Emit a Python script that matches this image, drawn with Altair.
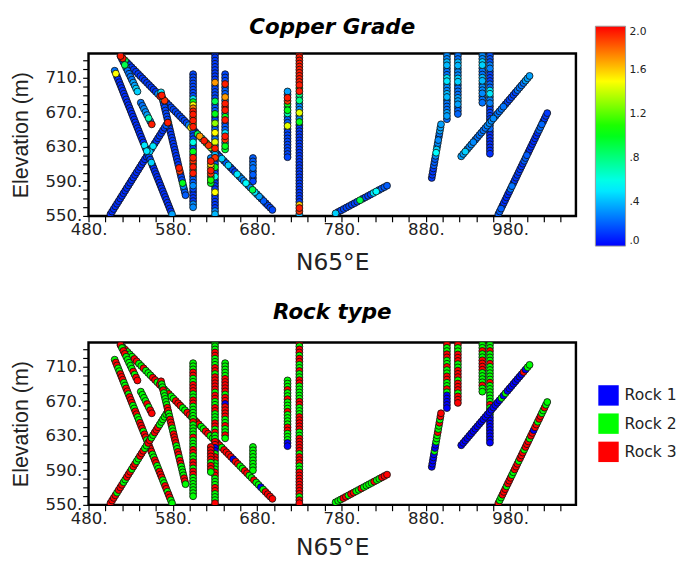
import altair as alt
import pandas as pd

# ---- drillhole traces (section coordinates) ----
hole_ids = ["A", "B", "C", "D", "E", "F", "G", "H", "I", "J", "K",
            "L", "M", "N", "O", "P", "Q", "R", "S", "T", "U"]
start_x = [518, 511, 506, 518, 542, 566, 604, 630, 642, 625, 675,
           716, 730, 773, 905, 918, 947, 956, 887, 922, 966]
start_y = [735, 718, 552, 735, 681, 693, 714, 737, 714, 617, 617,
           694, 737, 553, 739, 739, 739, 739, 594, 619, 552]
end_x = [698, 579, 574, 538, 555, 595, 604, 630, 642, 625, 675,
         716, 730, 834, 905, 918, 947, 956, 898, 1003, 1024]
end_y = [557, 552, 658, 694, 656, 574, 560, 552, 627, 588, 590,
         618, 552, 585, 662, 668, 681, 622, 656, 712, 669]

# ---- copper grade along each hole: [number of samples, grade] ----
grade_runs = {
    "A": [[1, 0.2], [1, 1.95], [1, 0.9], [14, 0.12], [1, 0.3], [1, 1.95], [1, 0.6], [1, 1.9],
          [10, 0.15], [1, 0.3], [1, 1.5], [2, 0.15], [1, 0.9], [1, 1.7], [1, 0.7], [1, 1.95],
          [1, 1.0], [1, 1.9], [1, 1.3], [4, 0.15], [1, 0.45], [2, 0.2], [1, 0.45], [3, 0.15],
          [1, 0.5], [3, 0.3], [1, 0.55], [2, 0.3], [1, 0.9], [1, 0.5], [2, 0.35], [2, 0.2], [4, 0.15]],
    "B": [[1, 0.25], [1, 1.5], [24, 0.1], [1, 0.5], [1, 0.2], [1, 0.5], [3, 0.15], [1, 0.45],
          [17, 0.1], [1, 0.35]],
    "C": [[24, 0.1], [1, 0.45], [1, 0.15], [1, 0.5], [7, 0.12], [1, 0.2], [1, 1.95]],
    "D": [[1, 1.95], [2, 0.15], [1, 0.9], [5, 0.25], [2, 0.35], [2, 0.45]],
    "E": [[2, 0.25], [2, 0.3], [1, 0.35], [1, 0.7], [1, 0.3], [1, 1.95]],
    "F": [[1, 0.5], [1, 1.95], [8, 0.15], [1, 0.9], [14, 0.12], [1, 1.95], [1, 1.9], [3, 0.15],
          [1, 1.0], [1, 0.3], [3, 0.2]],
    "G": [[8, 0.15], [1, 0.5], [1, 1.0], [1, 1.5], [1, 1.75], [1, 1.95], [1, 1.95], [1, 1.7],
          [1, 1.95], [1, 1.5], [1, 1.95], [4, 0.15], [1, 0.6], [2, 0.15], [1, 1.0], [1, 0.3],
          [1, 1.95], [1, 1.9], [1, 0.9], [1, 1.95], [1, 0.8], [1, 1.95], [3, 0.2], [1, 0.3],
          [1, 0.15], [4, 0.12], [2, 0.3]],
    "H": [[9, 0.12], [1, 1.7], [5, 0.15], [1, 0.9], [3, 0.2], [1, 1.0], [2, 0.15], [1, 1.3],
          [2, 0.2], [1, 1.5], [2, 0.25], [1, 1.45], [1, 0.3], [1, 1.95], [2, 0.4], [1, 1.9],
          [2, 0.2], [1, 1.0], [2, 0.15], [1, 0.6], [4, 0.12], [1, 1.5], [5, 0.12], [1, 0.3], [1, 0.4]],
    "I": [[3, 0.15], [1, 1.95], [3, 0.2], [1, 1.7], [1, 0.3], [1, 1.95], [1, 1.9], [1, 1.95],
          [1, 0.4], [1, 1.0], [1, 1.95], [3, 0.2], [1, 0.5], [1, 1.95], [1, 1.9], [1, 0.5],
          [1, 1.0], [1, 0.95]],
    "J": [[1, 0.3], [1, 1.95], [1, 1.6], [1, 1.5], [1, 1.95], [1, 1.9], [1, 0.8], [1, 1.1], [1, 1.0]],
    "K": [[2, 0.2], [2, 0.25], [2, 0.2], [2, 0.15]],
    "L": [[1, 0.35], [1, 0.2], [1, 1.95], [1, 1.9], [1, 1.0], [1, 0.6], [1, 1.0], [1, 0.7],
          [3, 0.2], [1, 1.45], [10, 0.15]],
    "M": [[11, 1.95], [1, 1.0], [1, 1.95], [1, 0.8], [1, 0.6], [1, 0.8], [3, 0.3], [1, 1.45],
          [2, 0.3], [1, 1.0], [26, 0.12], [1, 1.6], [1, 1.95], [1, 1.9], [1, 0.4]],
    "N": [[1, 0.45], [8, 0.15], [1, 0.9], [4, 0.15], [1, 0.5], [1, 0.55], [4, 0.2]],
    "O": [[3, 0.3], [2, 0.4], [3, 0.25], [2, 0.5], [3, 0.3], [2, 0.4], [4, 0.25], [2, 0.35], [1, 0.22]],
    "P": [[3, 0.25], [2, 0.4], [3, 0.3], [2, 0.45], [4, 0.25], [3, 0.35], [3, 0.22]],
    "Q": [[3, 0.3], [2, 0.45], [3, 0.25], [2, 0.4], [4, 0.3], [3, 0.25]],
    "R": [[4, 0.18], [2, 0.28], [4, 0.14], [2, 0.22], [2, 0.5], [3, 0.28], [6, 0.14], [2, 0.22], [8, 0.1]],
    "S": [[4, 0.12], [3, 0.2], [1, 0.3], [1, 0.55], [1, 0.45], [3, 0.3], [2, 0.25], [3, 0.35]],
    "T": [[2, 0.35], [1, 0.45], [4, 0.3], [6, 0.25], [4, 0.3], [5, 0.25], [6, 0.15], [4, 0.25], [3, 0.35]],
    "U": [[3, 0.2], [6, 0.1], [2, 0.25], [8, 0.12], [3, 0.2], [8, 0.1], [3, 0.22], [4, 0.12]],
}

# ---- rock type along each hole: [number of samples, rock code] ----
rock_runs = {
    "A": [[1, 3], [1, 2], [1, 3], [3, 2], [2, 3], [2, 2], [1, 3], [3, 2], [2, 3], [1, 2], [2, 3],
          [2, 2], [1, 3], [2, 2], [3, 3], [2, 2], [2, 3], [1, 2], [3, 3], [2, 2], [2, 3], [3, 2],
          [2, 3], [1, 2], [2, 3], [2, 3], [1, 1], [2, 3], [2, 2], [2, 3], [2, 2], [1, 3], [2, 2],
          [1, 1], [1, 2], [2, 3], [2, 3]],
    "B": [[1, 2], [2, 3], [2, 2], [3, 3], [2, 2], [2, 3], [1, 2], [3, 3], [2, 2], [2, 3], [2, 2],
          [3, 3], [1, 2], [2, 3], [2, 2], [3, 3], [2, 2], [2, 3], [2, 2], [3, 3], [2, 2], [2, 3],
          [1, 2], [2, 3], [2, 2]],
    "C": [[2, 3], [2, 3], [1, 2], [3, 3], [2, 2], [3, 3], [1, 2], [2, 3], [2, 2], [3, 3], [2, 2],
          [2, 3], [2, 2], [3, 3], [2, 2], [2, 2], [1, 2], [1, 3]],
    "D": [[1, 3], [1, 2], [2, 3], [3, 2], [2, 2], [1, 3], [1, 2], [2, 3]],
    "E": [[2, 2], [2, 2], [1, 3], [1, 2], [2, 3]],
    "F": [[1, 3], [2, 2], [1, 3], [2, 2], [3, 2], [2, 3], [2, 2], [3, 3], [2, 2], [2, 3], [2, 3],
          [2, 2], [2, 3], [1, 2], [2, 3], [2, 2], [2, 2], [2, 3], [1, 2]],
    "G": [[3, 2], [2, 3], [2, 2], [3, 3], [2, 2], [2, 3], [3, 2], [2, 2], [1, 3], [4, 2], [1, 3],
          [3, 2], [2, 3], [2, 2], [2, 3], [1, 2], [2, 3], [2, 2], [3, 2], [2, 2]],
    "H": [[3, 2], [2, 3], [3, 2], [2, 3], [1, 2], [2, 3], [3, 3], [1, 2], [2, 3], [2, 2], [2, 3],
          [1, 2], [2, 2], [2, 3], [1, 2], [1, 3], [2, 2], [2, 3], [1, 1], [1, 1], [1, 2], [2, 3],
          [3, 2], [2, 3], [3, 2], [2, 3], [3, 2], [1, 3]],
    "I": [[3, 2], [2, 2], [1, 3], [2, 3], [2, 3], [1, 2], [2, 3], [1, 1], [2, 3], [2, 3], [2, 2],
          [1, 3], [2, 2], [1, 3], [1, 2]],
    "J": [[1, 3], [2, 3], [2, 3], [1, 2], [1, 3], [1, 3], [1, 2]],
    "K": [[8, 2]],
    "L": [[2, 2], [1, 2], [1, 3], [2, 2], [1, 3], [1, 2], [2, 2], [1, 3], [2, 2], [1, 2], [1, 2],
          [2, 3], [1, 2], [2, 2], [1, 1], [1, 1]],
    "M": [[1, 3], [1, 2], [2, 3], [1, 2], [2, 3], [2, 2], [1, 3], [2, 2], [2, 3], [3, 2], [2, 2],
          [2, 3], [3, 2], [2, 3], [3, 3], [2, 2], [3, 3], [2, 3], [1, 2], [3, 3], [2, 2], [3, 3],
          [2, 3], [3, 3], [1, 2], [2, 3]],
    "N": [[1, 2], [2, 2], [2, 3], [1, 2], [2, 3], [2, 2], [1, 3], [2, 2], [2, 2], [1, 3], [1, 2],
          [1, 2], [2, 3], [1, 3]],
    "O": [[2, 3], [2, 2], [2, 3], [2, 2], [1, 3], [2, 2], [2, 3], [2, 2], [1, 3], [1, 2], [5, 1]],
    "P": [[2, 3], [2, 2], [3, 3], [2, 2], [3, 3], [1, 2], [3, 3], [1, 2], [2, 3], [1, 3]],
    "Q": [[3, 2], [1, 3], [2, 2], [4, 3], [2, 2], [2, 2], [1, 3], [2, 2]],
    "R": [[3, 2], [1, 3], [3, 2], [1, 3], [5, 2], [1, 3], [4, 2], [2, 2], [1, 3], [3, 2], [9, 1]],
    "S": [[5, 1], [1, 2], [2, 1], [1, 2], [2, 2], [1, 3], [2, 2], [1, 3], [1, 2], [2, 3]],
    "T": [[20, 1], [1, 2], [1, 1], [1, 2], [8, 1], [1, 3], [1, 1], [2, 2]],
    "U": [[1, 3], [2, 2], [3, 3], [1, 2], [3, 3], [2, 2], [3, 3], [1, 2], [3, 3], [1, 2], [3, 3],
          [1, 2], [2, 3], [1, 1], [2, 3], [1, 2], [2, 3], [2, 2], [1, 3], [2, 2]],
}

rock_names = ["Rock 1", "Rock 2", "Rock 3"]
rock_colors = ["#0000ff", "#00ff00", "#ff0000"]
grade_stops = [0.0, 0.55, 1.05, 1.5, 2.0]
grade_colors = ["#0000ff", "#00ffff", "#00ff00", "#ffff00", "#ff0000"]
grade_ticks = [0.0, 0.4, 0.8, 1.2, 1.6, 2.0]
x_ticks = list(range(480, 1061, 20))
y_ticks = list(range(550, 731, 10))


def expand(runs):
    out = []
    for n, v in runs:
        out.extend([v] * n)
    return out


def trace(runs_by_hole, field):
    rows = []
    for h, x0, y0, x1, y1 in zip(hole_ids, start_x, start_y, end_x, end_y):
        vals = expand(runs_by_hole[h])
        n = len(vals)
        for i, v in enumerate(vals):
            t = i / (n - 1) if n > 1 else 0.0
            rows.append({"hole": h, "x": x0 + t * (x1 - x0), "y": y0 + t * (y1 - y0),
                         field: v, "seq": i})
    return pd.DataFrame(rows)


df_cu = trace(grade_runs, "grade")
df_rk = trace(rock_runs, "rock")
df_rk["rock"] = df_rk["rock"].map(lambda r: rock_names[r - 1])

FONT = "DejaVu Sans"


def x_enc(title_pad):
    return alt.X("x:Q", scale=alt.Scale(domain=[480, 1058], nice=False, zero=False),
                 axis=alt.Axis(values=x_ticks, title="N65°E", titleFontSize=24,
                               titlePadding=title_pad, labelPadding=0,
                               labelExpr="(datum.value - 480) % 100 == 0 ? datum.value + '.' : ''"))


y_enc = alt.Y("y:Q", scale=alt.Scale(domain=[550, 738], nice=False, zero=False),
              axis=alt.Axis(values=y_ticks, title="Elevation (m)", titleFontSize=22,
                            titleFont="Liberation Sans", titlePadding=13, labelPadding=1,
                            labelExpr="(datum.value - 550) % 40 == 0 ? datum.value + '.' : ''"))

title_kw = dict(fontSize=22, font=FONT, fontStyle="italic", fontWeight="bold",
                anchor="middle", color="black")

MARK = dict(size=50, stroke="#111111", strokeWidth=0.85, opacity=1, clip=True)

top = alt.Chart(df_cu, title=alt.TitleParams("Copper Grade", offset=-13, **title_kw)).mark_circle(
    **MARK
).encode(
    x=x_enc(14), y=y_enc,
    color=alt.Color("grade:Q",
                    scale=alt.Scale(domain=grade_stops, range=grade_colors, interpolate="rgb"),
                    legend=alt.Legend(orient="none", legendX=521, legendY=-28, title=None,
                                      direction="vertical", gradientLength=226,
                                      gradientThickness=31, values=grade_ticks,
                                      gradientStrokeColor="#999999", gradientStrokeWidth=1,
                                      labelFontSize=11, labelFont=FONT, labelOffset=4,
                                      labelColor="#222222",
                                      labelExpr="datum.value < 1 ? replace(format(datum.value, '.1f'), '0.', '.') : format(datum.value, '.1f')")),
    order=alt.Order("grade:Q", sort="ascending"),
).properties(width=501, height=167)

bottom = alt.Chart(df_rk, title=alt.TitleParams("Rock type", offset=19, **title_kw)).mark_circle(
    **MARK
).encode(
    x=x_enc(10), y=y_enc,
    color=alt.Color("rock:N", scale=alt.Scale(domain=rock_names, range=rock_colors),
                    legend=alt.Legend(orient="none", legendX=524, legendY=44, title=None,
                                      symbolType="square", symbolSize=440,
                                      symbolStrokeWidth=0, symbolOpacity=1,
                                      labelFontSize=16, labelFont=FONT, labelOffset=6,
                                      labelColor="#222222", rowPadding=8)),
).properties(width=501, height=167)

chart = alt.vconcat(top, bottom, spacing=24).resolve_scale(color="independent").properties(
    padding={"left": 8, "top": 7, "right": 2, "bottom": 2}
).configure_view(
    stroke="black", strokeWidth=2.5
).configure_axis(
    grid=False, domain=False, tickColor="black", tickWidth=1.2, tickSize=6,
    labelFont=FONT, labelFontSize=17, labelColor="#222222",
    titleFont=FONT, titleFontWeight="normal", titleColor="#222222",
).configure_axisX(
    labelFlush=False,
).configure_axisY(
    labelFlush=False,
)

chart.save("out.html", embed_options={"renderer": "svg", "actions": False})
